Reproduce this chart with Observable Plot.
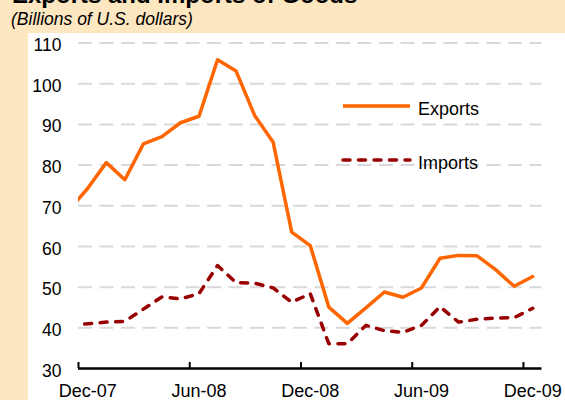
<!DOCTYPE html>
<html><head><meta charset="utf-8">
<script src="https://cdn.jsdelivr.net/npm/d3@7"></script>
<script src="https://cdn.jsdelivr.net/npm/@observablehq/plot@0.6"></script>
<style>
html,body{margin:0;padding:0;}
body{width:565px;height:400px;background:#FDE7C0;position:relative;overflow:hidden;font-family:"Liberation Sans",Arial,sans-serif;color:#000;}
#title{position:absolute;left:12px;top:-17px;font-weight:bold;font-size:24px;line-height:24px;white-space:nowrap;}
#subtitle{position:absolute;left:11px;top:11px;font-style:italic;font-size:17.5px;line-height:17.5px;white-space:nowrap;}
#panel{position:absolute;left:28px;top:33px;right:0;bottom:0;background:#fff;}
#chart{position:absolute;left:0;top:0;}
#legend{position:absolute;left:0;top:0;pointer-events:none;}
</style>
</head><body>
<div id="title">Exports and Imports of Goods</div>
<div id="subtitle">(Billions of U.S. dollars)</div>
<div id="panel"></div>
<div id="chart"></div>
<svg id="legend" width="565" height="400" font-family="Liberation Sans, Arial, sans-serif" font-size="18">
  <line x1="343" y1="106" x2="410" y2="106" stroke="#FF6600" stroke-width="3.5"/>
  <text x="418" y="115">Exports</text>
  <line x1="343" y1="160" x2="410" y2="160" stroke="#990000" stroke-width="3.5" stroke-dasharray="7,8.5" stroke-linecap="round"/>
  <text x="418" y="169">Imports</text>
</svg>
<script>
const months = ["Nov-07","Dec-07","Jan-08","Feb-08","Mar-08","Apr-08","May-08","Jun-08","Jul-08","Aug-08","Sep-08","Oct-08","Nov-08","Dec-08",
  "Jan-09","Feb-09","Mar-09","Apr-09","May-09","Jun-09","Jul-09","Aug-09","Sep-09","Oct-09","Nov-09","Dec-09"];
const exportsVals = [69.0,74.3,80.6,76.4,85.2,87.0,90.4,92.0,105.9,103.1,92.2,85.6,63.5,60.2,
  45.1,41.1,44.9,48.8,47.5,49.8,57.1,57.8,57.7,54.3,50.2,52.6];
const importsVals = [40.6,41.0,41.4,41.6,44.6,47.6,47.1,48.4,55.3,51.1,51.0,49.8,46.3,48.4,
  36.1,36.1,40.6,39.3,38.9,40.6,45.2,41.4,42.1,42.4,42.5,44.8];
const xLabels = ["Dec-07","Jun-08","Dec-08","Jun-09","Dec-09"];
const yTicks = [30,40,50,60,70,80,90,100,110];

const data = months.map((m, i) => ({month: m, x: i - 0.5, exports: exportsVals[i], imports: importsVals[i]}));
const labelPos = xLabels.map(l => months.indexOf(l) - 0.5);
const boundaryPos = xLabels.map(l => months.indexOf(l) - 1);

const chart = Plot.plot({
  width: 565, height: 400,
  marginLeft: 78, marginRight: 23.5, marginTop: 42.5, marginBottom: 32,
  style: {background: "transparent", fontFamily: "Liberation Sans, Arial, sans-serif", color: "#000", overflow: "visible"},
  x: {domain: [0, months.length - 1], axis: null, label: null},
  y: {domain: [yTicks[0], yTicks[yTicks.length - 1]], axis: null, label: null},
  marks: [
    Plot.ruleY(yTicks.slice(1), {stroke: "#d9d9d9", strokeWidth: 2, strokeDasharray: "14,7.5"}),
    Plot.axisY({ticks: yTicks, tickSize: 0, tickPadding: 17, fontSize: 17.5, dy: 2.5, label: null}),
    Plot.axisX({ticks: labelPos, tickSize: 0, tickPadding: 16, fontSize: 18, label: null,
      tickFormat: d => xLabels[labelPos.indexOf(d)]}),
    Plot.line(data, {x: "x", y: "imports", stroke: "#990000", strokeWidth: 3.5,
      strokeDasharray: "7,8.5", strokeLinecap: "round", clip: true}),
    Plot.line(data, {x: "x", y: "exports", stroke: "#FF6600", strokeWidth: 3.5, clip: true}),
    Plot.ruleY([yTicks[0]], {stroke: "#000", strokeWidth: 2.5}),
    Plot.ruleX(boundaryPos, {x: d => d, y1: yTicks[0], y2: yTicks[0], insetBottom: 6, stroke: "#000", strokeWidth: 2})
  ]
});
document.getElementById("chart").appendChild(chart);
</script>
</body></html>
